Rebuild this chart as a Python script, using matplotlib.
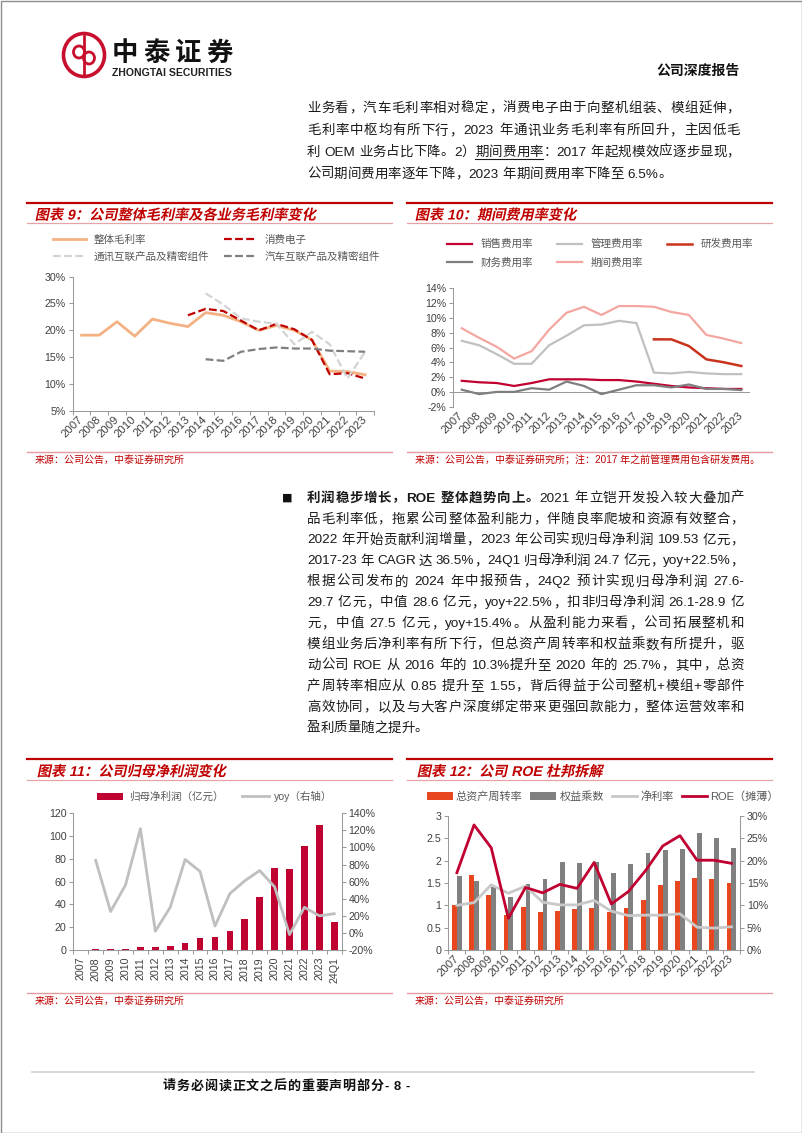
import numpy as np
import matplotlib
matplotlib.use('Agg')
import matplotlib.pyplot as plt
import matplotlib.patheffects as pe
from matplotlib.lines import Line2D
from matplotlib.patches import Ellipse, Rectangle
from matplotlib.transforms import Affine2D

nan = np.nan
years = [str(y) for y in range(2007, 2024)]
years11 = years + ['24Q1']

# 图表9 毛利率 (%)
gm_total = [19.1, 19.1, 21.6, 18.9, 22.1, 21.3, 20.7, 23.3, 22.8, 21.6, 20.0, 20.9, 20.0, 18.2, 12.4, 12.3, 11.7]
gm_consumer = [nan] * 6 + [22.8, 24.0, 23.6, 21.8, 20.0, 21.2, 20.2, 18.2, 11.8, 12.0, 11.0]
gm_comm = [nan] * 7 + [26.9, 24.8, 22.2, 21.6, 21.2, 17.4, 19.7, 17.4, 11.0, 16.0]
gm_auto = [nan] * 7 + [14.6, 14.3, 16.0, 16.5, 16.8, 16.6, 16.6, 16.2, 16.1, 16.0]

# 图表10 期间费用率 (%)
fee_sales = [1.5, 1.3, 1.2, 0.8, 1.2, 1.7, 1.7, 1.7, 1.6, 1.6, 1.4, 1.1, 0.8, 0.6, 0.5, 0.4, 0.4]
fee_admin = [6.9, 6.3, 5.1, 3.8, 3.8, 6.3, 7.6, 9.0, 9.1, 9.6, 9.3, 2.6, 2.5, 2.7, 2.5, 2.4, 2.4]
fee_rd = [nan] * 11 + [7.1, 7.1, 6.2, 4.4, 4.0, 3.5]
fee_fin = [0.3, -0.3, 0.0, 0.0, 0.5, 0.3, 1.4, 0.8, -0.3, 0.3, 0.9, 0.9, 0.6, 1.0, 0.4, 0.4, 0.25]
fee_total = [8.6, 7.3, 6.1, 4.5, 5.5, 8.4, 10.7, 11.5, 10.4, 11.6, 11.6, 11.5, 10.8, 10.4, 7.7, 7.2, 6.6]

# 图表11 归母净利润
profit = [0.3, 0.55, 0.7, 1.1, 2.4, 2.45, 3.2, 5.9, 10.2, 11.1, 16.4, 26.9, 46.8, 72.3, 70.7, 91.6, 109.5, 24.7]
profit_yoy = [nan, 85, 25, 56, 122, 2, 30, 86, 72, 8, 46, 61, 73, 54, -2, 30, 20, 22.5]

# 图表12 杜邦拆解
turnover = [1.01, 1.68, 1.23, 0.78, 0.96, 0.85, 0.88, 0.92, 0.94, 0.85, 0.94, 1.12, 1.46, 1.54, 1.62, 1.58, 1.49]
multiplier = [1.66, 1.55, 1.40, 1.19, 1.48, 1.60, 1.96, 1.94, 1.96, 1.72, 1.92, 2.18, 2.25, 2.26, 2.63, 2.51, 2.29]
net_margin = [10.0, 10.6, 14.6, 12.7, 14.3, 10.7, 10.1, 10.1, 11.1, 8.7, 7.7, 7.8, 7.8, 8.1, 5.1, 4.9, 5.2]
roe = [17.3, 28.0, 22.9, 7.1, 14.0, 12.8, 14.7, 13.8, 19.6, 10.3, 13.1, 17.8, 23.3, 25.6, 20.1, 20.1, 19.4]

para1 = [
    "业务看，汽车毛利率相对稳定，消费电子由于向整机组装、模组延伸，",
    "毛利率中枢均有所下行，2023 年通讯业务毛利率有所回升，主因低毛",
]
para2 = [
    "品毛利率低，拖累公司整体盈利能力，伴随良率爬坡和资源有效整合，",
    "2022 年开始贡献利润增量，2023 年公司实现归母净利润 109.53 亿元，",
    "2017-23 年 CAGR 达 36.5%，24Q1 归母净利润 24.7 亿元，yoy+22.5%，",
    "根据公司发布的 2024 年中报预告，24Q2 预计实现归母净利润 27.6-",
    "29.7 亿元，中值 28.6 亿元，yoy+22.5%，扣非归母净利润 26.1-28.9 亿",
    "元，中值 27.5 亿元，yoy+15.4%。从盈利能力来看，公司拓展整机和",
    "模组业务后净利率有所下行，但总资产周转率和权益乘数有所提升，驱",
    "动公司 ROE 从 2016 年的 10.3%提升至 2020 年的 25.7%，其中，总资",
    "产周转率相应从 0.85 提升至 1.55，背后得益于公司整机+模组+零部件",
    "高效协同，以及与大客户深度绑定带来更强回款能力，整体运营效率和",
]

W, H = 802, 1133
plt.rcParams['font.family'] = ['Liberation Sans', 'Noto Sans CJK SC']
plt.rcParams['axes.unicode_minus'] = False

RED = '#C00000'
CRIMSON = '#C00030'
AXC = '#9A9A9A'
TXT = '#404040'
LEG = '#595959'

fig = plt.figure(figsize=(W / 100, H / 100), dpi=100)
renderer = fig.canvas.get_renderer()


def fx(x):
    return x / W


def fy(y):
    return 1 - y / H


def hline(x0, x1, y, color, lw):
    fig.add_artist(Line2D([fx(x0), fx(x1)], [fy(y), fy(y)], color=color, lw=lw))


def add_ax(l, t, r, b):
    return fig.add_axes([fx(l), fy(b), (r - l) / W, (b - t) / H])


class Slant(pe.AbstractPathEffect):
    # fake italic for the CJK titles
    def __init__(self, y, deg=12):
        super().__init__()
        y0 = H - y
        self.tr = Affine2D().translate(0, -y0).skew_deg(deg, 0).translate(0, y0)

    def draw_path(self, renderer, gc, tpath, affine, rgbFace=None):
        renderer.draw_path(gc, tpath, affine + self.tr, rgbFace)


def tokens(text):
    out, run = [], ''
    for ch in text:
        if ord(ch) < 128 and ch != ' ':
            run += ch
            continue
        if run:
            out.append(run)
            run = ''
        out.append(ch)
    if run:
        out.append(run)
    return out


def text_line(segs, x0, y, x1=None, fs=9.7, color='#1A1A1A'):
    em = fs * 100 / 72
    items = []
    for s, wt in segs:
        for tk in tokens(s):
            if tk == ' ':
                items.append((None, em * 0.28))
                continue
            t = fig.text(0, 0, tk, fontsize=fs, weight=wt, color=color,
                         ha='left', va='center_baseline')
            w = em if ord(tk[0]) >= 128 else t.get_window_extent(renderer).width
            items.append((t, w))
    extra = 0
    if x1 is not None and len(items) > 1:
        extra = (x1 - x0 - sum(i[1] for i in items)) / (len(items) - 1)
    pos = []
    x = x0
    for t, w in items:
        if t is not None:
            t.set_position((fx(x), fy(y)))
        pos.append(x)
        x += w + extra
    return pos


def header(x0, x1, y, title, tx):
    hline(x0, x1, y, RED, 1.6)
    hline(x0, x1, y + 20.5, '#E8A3A8', 0.9)
    fig.text(fx(tx), fy(y + 11.5), title, fontsize=10.2, weight='bold', color=RED,
             va='center_baseline', path_effects=[Slant(y + 16)])


def source(x0, x1, y, text, tx):
    hline(x0, x1, y, '#E39AA0', 1.0)
    fig.text(fx(tx), fy(y + 7), text, fontsize=7.2, color=RED, va='center_baseline')


def frame(ax, right=False):
    for s in ax.spines.values():
        s.set_visible(False)
    for s in (['right'] if right else ['left', 'bottom']):
        ax.spines[s].set_visible(True)
        ax.spines[s].set_color(AXC)
        ax.spines[s].set_linewidth(0.75)
    ax.tick_params(axis='y', length=3, width=0.75, color=AXC, labelsize=7.7,
                   labelcolor=TXT, pad=2)
    ax.tick_params(axis='x', labelsize=7.7, labelcolor=TXT)
    ax.patch.set_alpha(0)


def cat_axis(ax, labels, rot):
    n = len(labels)
    ax.set_xlim(-0.5, n - 0.5)
    ax.set_xticks(np.arange(n), labels)
    ax.set_xticks(np.arange(-0.5, n), minor=True)
    ax.tick_params(axis='x', which='major', length=0, pad=5)
    ax.tick_params(axis='x', which='minor', length=3, color=AXC, width=0.75)
    for lb in ax.get_xticklabels():
        lb.set_rotation(rot)
        if rot == 45:
            lb.set_fontsize(8.2)
            lb.set_ha('right')
            lb.set_va('center')
            lb.set_rotation_mode('anchor')


# ---- page furniture ----
fig.add_artist(Rectangle((0.5 / W, 0.5 / H), 1 - 1 / W, 1 - 1 / H, fill=False,
                         ec='#8C8C8C', lw=1))
fig.add_artist(Ellipse((fx(84), fy(55)), 41 / W, 43 / H, fill=False, ec='#C8102E', lw=2.6))
fig.add_artist(Ellipse((fx(79), fy(52)), 11 / W, 12 / H, fill=False, ec='#C8102E', lw=2))
fig.add_artist(Ellipse((fx(89), fy(58)), 11 / W, 12 / H, fill=False, ec='#C8102E', lw=2))
fig.add_artist(Line2D([fx(84), fx(84)], [fy(36), fy(74)], color='#C8102E', lw=2))
text_line([('中泰证券', 'bold')], 112, 51, 233, fs=19, color='#111111')
fig.text(fx(112), fy(71.5), 'ZHONGTAI SECURITIES', fontsize=7.6, weight='bold',
         color='#222222', va='center_baseline')
fig.text(fx(740), fy(69), '公司深度报告', fontsize=10, weight='bold', ha='right',
         va='center_baseline', color='#111111')

# paragraph 1
X0, X1 = 307, 740
ys = [107, 129.5, 151]
for i, ln in enumerate(para1):
    text_line([(ln, 'normal')], X0, ys[i], X1)
seg_a = "利 OEM 业务占比下降。2）"
pos = text_line([(seg_a, 'normal'), ("期间费用率", 'normal'),
                 ("：2017 年起规模效应逐步显现，", 'normal')], X0, ys[2], X1)
na = len(tokens(seg_a))
hline(pos[na], pos[na + 4] + 13.5, ys[2] + 8, '#1A1A1A', 0.8)
text_line([("公司期间费用率逐年下降，2023 年期间费用率下降至 6.5%。", 'normal')], X0, 173)

# paragraph 2
fig.text(fx(282), fy(497), '■', fontsize=8, va='center_baseline', color='#111111',
         family='DejaVu Sans')
text_line([("利润稳步增长，ROE 整体趋势向上。", 'bold'),
           ("2021 年立铠开发投入较大叠加产", 'normal')], X0, 497, X1 + 4)
for i, ln in enumerate(para2):
    text_line([(ln, 'normal')], X0, 518 + 20.9 * i, X1 + 4)
text_line([("盈利质量随之提升。", 'normal')], X0, 518 + 20.9 * len(para2))

# headers / sources / footer
header(27, 392, 202.5, '图表 9：公司整体毛利率及各业务毛利率变化', 35)
header(407, 772, 202.5, '图表 10：期间费用率变化', 415)
header(27, 392, 759, '图表 11：公司归母净利润变化', 37)
header(407, 772, 759, '图表 12：公司 ROE 杜邦拆解', 417)
source(27, 392, 452, '来源：公司公告，中泰证券研究所', 35)
source(407, 772, 452, '来源：公司公告，中泰证券研究所；注：2017 年之前管理费用包含研发费用。', 415)
source(27, 392, 993, '来源：公司公告，中泰证券研究所', 35)
source(407, 772, 993, '来源：公司公告，中泰证券研究所', 415)
hline(32, 754, 1072, '#D8CEC8', 1.2)
text_line([('请务必阅读正文之后的重要声明部分- 8 -', 'bold')], 163, 1085, 410, fs=9.4,
          color='#111111')

dash = (0, (3.5, 1.5))
x = np.arange(len(years))

# ---- 图表9 ----
ax9 = add_ax(72.7, 276.7, 374, 410.7)
frame(ax9)
l1, = ax9.plot(x, gm_total, color='#F4B183', lw=2)
l2, = ax9.plot(x, gm_consumer, color=RED, lw=1.6, ls=dash)
l3, = ax9.plot(x, gm_comm, color='#D3D3D3', lw=1.6, ls=dash)
l4, = ax9.plot(x, gm_auto, color='#7F7F7F', lw=1.6, ls=dash)
ax9.set_ylim(5, 30)
ax9.set_yticks(range(5, 31, 5), [f'{v}%' for v in range(5, 31, 5)])
cat_axis(ax9, years, 45)
ax9.legend([l1, l3, l2, l4], ['整体毛利率', '通讯互联产品及精密组件', '消费电子', '汽车互联产品及精密组件'],
           ncol=2, loc='upper left', bbox_to_anchor=(fx(53), fy(235)),
           bbox_transform=fig.transFigure, frameon=False, fontsize=7.6,
           handlelength=3.1, handletextpad=0.7, columnspacing=1.5, labelspacing=0.6,
           borderpad=0, borderaxespad=0, labelcolor=LEG)

# ---- 图表10 ----
ax10 = add_ax(453, 288.3, 750, 406.7)
frame(ax10)
ax10.spines['bottom'].set_visible(False)
ax10.axhline(0, color=AXC, lw=0.75)
s1, = ax10.plot(x, fee_sales, color=CRIMSON, lw=1.6)
s2, = ax10.plot(x, fee_admin, color='#C0C0C0', lw=1.6)
s3, = ax10.plot(x, fee_rd, color='#C9331B', lw=1.8)
s4, = ax10.plot(x, fee_fin, color='#7F7F7F', lw=1.6)
s5, = ax10.plot(x, fee_total, color='#F4A6A0', lw=1.6)
ax10.set_ylim(-2, 14)
ax10.set_yticks(range(-2, 15, 2), [f'{v}%' for v in range(-2, 15, 2)])
cat_axis(ax10, years, 45)
ax10.tick_params(axis='x', which='minor', length=0)
ax10.legend([s1, s4, s2, s5, s3], ['销售费用率', '财务费用率', '管理费用率', '期间费用率', '研发费用率'],
            ncol=3, loc='upper left', bbox_to_anchor=(fx(447), fy(239)),
            bbox_transform=fig.transFigure, frameon=False, fontsize=7.6,
            handlelength=2.4, handletextpad=0.75, columnspacing=2.3, labelspacing=0.8,
            borderpad=0, borderaxespad=0, labelcolor=LEG)

# ---- 图表11 ----
x11 = np.arange(len(years11))
ax11 = add_ax(73.3, 813.3, 341.7, 950)
frame(ax11)
b11 = ax11.bar(x11, profit, width=0.45, color=CRIMSON)
ax11.set_ylim(0, 120)
ax11.set_yticks(range(0, 121, 20))
cat_axis(ax11, years11, 90)
ax11b = ax11.twinx()
frame(ax11b, right=True)
y11, = ax11b.plot(x11, profit_yoy, color='#BFBFBF', lw=2)
ax11b.set_ylim(-20, 140)
ax11b.set_yticks(range(-20, 141, 20), [f'{v}%' for v in range(-20, 141, 20)])
ax11b.legend([b11, y11], ['归母净利润（亿元）', 'yoy（右轴）'], ncol=2, loc='upper left',
             bbox_to_anchor=(fx(97), fy(791)), bbox_transform=fig.transFigure,
             frameon=False, fontsize=7.6, handlelength=2.5, handletextpad=0.5,
             columnspacing=1.8, borderpad=0, borderaxespad=0, labelcolor=LEG)

# ---- 图表12 ----
ax12 = add_ax(448.3, 816, 740, 950)
frame(ax12)
b1 = ax12.bar(x - 0.14, turnover, width=0.28, color='#E8461E')
b2 = ax12.bar(x + 0.14, multiplier, width=0.28, color='#808080')
ax12.set_ylim(0, 3)
ax12.set_yticks(np.arange(0, 3.01, 0.5), [f'{v:g}' for v in np.arange(0, 3.01, 0.5)])
cat_axis(ax12, years, 45)
ax12b = ax12.twinx()
frame(ax12b, right=True)
n12, = ax12b.plot(x, net_margin, color='#C8C8C8', lw=2)
r12, = ax12b.plot(x, roe, color=CRIMSON, lw=2)
ax12b.set_ylim(0, 30)
ax12b.set_yticks(range(0, 31, 5), [f'{v}%' for v in range(0, 31, 5)])
ax12b.legend([b1, b2, n12, r12], ['总资产周转率', '权益乘数', '净利率', 'ROE（摊薄）'], ncol=4,
             loc='upper left', bbox_to_anchor=(fx(427), fy(791)),
             bbox_transform=fig.transFigure, frameon=False, fontsize=8,
             handlelength=2.3, handletextpad=0.3, columnspacing=0.7, borderpad=0,
             borderaxespad=0, labelcolor=LEG)

fig.savefig('out.png', dpi=100, facecolor='white')
